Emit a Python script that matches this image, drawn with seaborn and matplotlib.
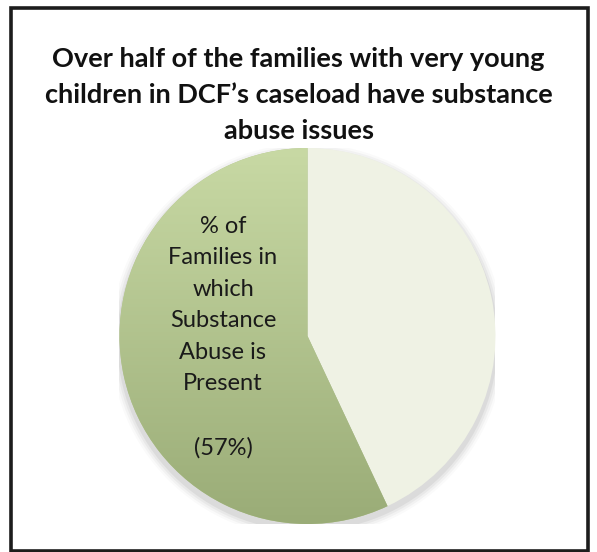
import numpy as np
import matplotlib
matplotlib.use("Agg")
import matplotlib.pyplot as plt
from matplotlib.patches import Rectangle, Circle
import seaborn as sns

# ---- data ----
categories = ["% of Families in which Substance Abuse is Present", "Other"]
values = [57, 43]
slice_label = "% of\nFamilies in\nwhich\nSubstance\nAbuse is\nPresent\n\n(57%)"
title = "Over half of the families with very young\nchildren in DCF\u2019s caseload have substance\nabuse issues"

sns.set_theme(style="white")
plt.rcParams['font.family'] = ['Lato', 'DejaVu Sans']

W, H = 597, 552
fig = plt.figure(figsize=(W / 100, H / 100), dpi=100)
fig.patch.set_facecolor("white")

# frame
fig.patches.append(Rectangle((10.5 / W, 1 - 550.5 / H), 577 / W, 543 / H,
                             transform=fig.transFigure, fill=False,
                             edgecolor="#1c1c1c", linewidth=2.6))

cx, cy, r = 307.5, 336, 188
ax = fig.add_axes([(cx - r) / W, (H - cy - r) / H, 2 * r / W, 2 * r / H])

green_top = np.array(matplotlib.colors.to_rgb("#c8d9a4"))
green_bot = np.array(matplotlib.colors.to_rgb("#9aac77"))
light = "#eff2e4"

# soft shadow
for i, a in enumerate([0.05, 0.04, 0.03, 0.02]):
    ax.add_patch(Circle((0.0, -0.025), 1.0 + 0.012 * (i + 1), color="black",
                        alpha=a, lw=0, zorder=0))

wedges, _ = ax.pie(values[::-1], colors=[light, "#b3c58e"], startangle=90,
                   counterclock=False, radius=1.0,
                   wedgeprops=dict(linewidth=0))
light_w, green_w = wedges[0], wedges[1]
for w in wedges:
    w.set_zorder(2)

# gradient on green wedge
t = np.linspace(0, 1, 256)[:, None]
grad = green_top[None, None, :] * (1 - t[..., None]) + green_bot[None, None, :] * t[..., None]
grad = np.repeat(grad, 4, axis=1)
im = ax.imshow(grad, extent=[-1, 1, -1, 1], origin="upper", aspect="auto", zorder=3)
im.set_clip_path(green_w)

ax.set_xlim(-1.0, 1.0)
ax.set_ylim(-1.0, 1.0)
ax.set_aspect("auto")
ax.axis("off")

# slice label
lx = (223 - cx) / r
ly = -(337 - cy) / r
ax.text(lx, ly, slice_label, ha="center", va="center", fontsize=17,
        color="#1a1a1a", linespacing=1.62, zorder=5)

fig.text(298.5 / W, 1 - 95.5 / H, title, ha="center", va="center",
         fontsize=19.5, fontweight="bold", color="#111111", linespacing=1.6)

fig.savefig("out.png", dpi=100, facecolor="white")
